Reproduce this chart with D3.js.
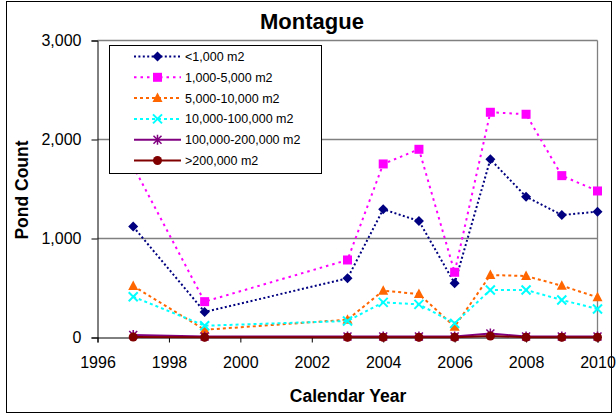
<!DOCTYPE html>
<html>
<head>
<meta charset="utf-8">
<script src="https://cdn.jsdelivr.net/npm/d3@7"></script>
<style>
  html, body { margin: 0; padding: 0; background: #fff; }
  svg { display: block; font-family: Arial, "Liberation Sans", sans-serif; }
</style>
</head>
<body>
<svg id="chart" width="616" height="417"></svg>
<script>
// Pond counts by size class, Montague
const years = [1997, 1999, 2003, 2004, 2005, 2006, 2007, 2008, 2009, 2010];
const seriesNames = ["<1,000 m2", "1,000-5,000 m2", "5,000-10,000 m2", "10,000-100,000 m2", "100,000-200,000 m2", ">200,000 m2"];
const lt1000      = [1120, 258, 598, 1295, 1177, 547, 1800, 1422, 1237, 1271];
const s1000_5000  = [1730, 362, 783, 1753, 1901, 659, 2275, 2255, 1635, 1480];
const s5000_10000 = [520, 78, 180, 473, 439, 109, 631, 621, 523, 406];
const s10k_100k   = [412, 119, 167, 355, 335, 143, 480, 480, 379, 288];
const s100k_200k  = [25, 10, 10, 10, 10, 10, 40, 10, 10, 10];
const gt200k      = [5, 3, 3, 3, 3, 3, 15, 3, 3, 3];
const xTicks = [1996, 1998, 2000, 2002, 2004, 2006, 2008, 2010];
const yTicks = [0, 1000, 2000, 3000];

const seriesValues = [lt1000, s1000_5000, s5000_10000, s10k_100k, s100k_200k, gt200k];
const styles = [
  { color: "#000080", dash: "2,2.4", marker: "diamond", width: 2 },
  { color: "#FF00FF", dash: "2.5,4", marker: "square", width: 2 },
  { color: "#FF6600", dash: "3,3", marker: "triangle", width: 2 },
  { color: "#00FFFF", dash: "3,3", marker: "x", width: 2 },
  { color: "#800080", dash: null, marker: "asterisk", width: 2 },
  { color: "#800000", dash: null, marker: "circle", width: 2 }
];

const svg = d3.select("#chart");
const plot = { left: 97.5, right: 597.5, top: 40.5, bottom: 337.5 };

const x = d3.scaleLinear().domain([1996, 2010]).range([plot.left, plot.right]);
const y = d3.scaleLinear().domain([0, 3000]).range([plot.bottom, plot.top]);

// outer chart frame
svg.append("rect").attr("x", 6.5).attr("y", 1.5).attr("width", 605).attr("height", 411)
  .attr("fill", "#fff").attr("stroke", "#000").attr("stroke-width", 1);

// title
svg.append("text").attr("x", 312).attr("y", 29).attr("text-anchor", "middle")
  .attr("font-size", 22).attr("font-weight", "bold").text("Montague");

// gridlines
svg.append("g").selectAll("line").data(yTicks.filter(d => d > 0)).join("line")
  .attr("x1", plot.left).attr("x2", plot.right)
  .attr("y1", d => y(d)).attr("y2", d => y(d))
  .attr("stroke", "#808080").attr("stroke-width", 1.3);

// right frame
svg.append("line").attr("x1", plot.right).attr("x2", plot.right)
  .attr("y1", plot.top).attr("y2", plot.bottom).attr("stroke", "#808080").attr("stroke-width", 1.3);

// y axis
const yAxis = svg.append("g").attr("transform", `translate(${plot.left},0)`)
  .call(d3.axisLeft(y).tickValues(yTicks).tickFormat(d3.format(",")).tickSizeOuter(0).tickSize(6).tickPadding(10));
yAxis.select(".domain").attr("stroke", "#000");
yAxis.selectAll("text").attr("font-size", 16).attr("fill", "#000").attr("font-family", "Arial, 'Liberation Sans', sans-serif");

// x axis
const xAxis = svg.append("g").attr("transform", `translate(0,${plot.bottom})`)
  .call(d3.axisBottom(x).tickValues(xTicks).tickFormat(d3.format("d")).tickSizeOuter(0).tickSize(5).tickPadding(14));
xAxis.select(".domain").attr("stroke", "#000");
xAxis.selectAll("text").attr("font-size", 16).attr("fill", "#000").attr("font-family", "Arial, 'Liberation Sans', sans-serif");

// axis titles
svg.append("text").attr("x", 348).attr("y", 402).attr("text-anchor", "middle")
  .attr("font-size", 17.5).attr("font-weight", "bold").text("Calendar Year");
svg.append("text").attr("transform", "translate(28,190) rotate(-90)").attr("text-anchor", "middle")
  .attr("font-size", 17.5).attr("font-weight", "bold").text("Pond Count");

// marker drawing
function drawMarker(g, type, color) {
  switch (type) {
    case "diamond":
      g.append("path").attr("d", "M0,-5L5,0L0,5L-5,0Z").attr("fill", color);
      break;
    case "square":
      g.append("rect").attr("x", -4.5).attr("y", -4.5).attr("width", 9).attr("height", 9).attr("fill", color);
      break;
    case "triangle":
      g.append("path").attr("d", "M0,-5.5L5,4L-5,4Z").attr("fill", color);
      break;
    case "x":
      g.append("path").attr("d", "M-4.5,-4.5L4.5,4.5M-4.5,4.5L4.5,-4.5").attr("stroke", color).attr("stroke-width", 2);
      break;
    case "asterisk":
      g.append("path").attr("d", "M-4,-4L4,4M-4,4L4,-4M0,-5L0,5").attr("stroke", color).attr("stroke-width", 1.5);
      break;
    case "circle":
      g.append("circle").attr("r", 4.5).attr("fill", color);
      break;
  }
}

const line = d3.line().x(d => x(d[0])).y(d => y(d[1]));

// series
seriesValues.forEach((vals, i) => {
  const st = styles[i];
  const pts = years.map((yr, j) => [yr, vals[j]]);
  const g = svg.append("g");
  g.append("path").datum(pts).attr("d", line).attr("fill", "none")
    .attr("stroke", st.color).attr("stroke-width", st.width)
    .attr("stroke-dasharray", st.dash);
  pts.forEach(p => {
    const m = g.append("g").attr("transform", `translate(${x(p[0])},${y(p[1])})`);
    drawMarker(m, st.marker, st.color);
  });
});

// legend
const legend = svg.append("g");
legend.append("rect").attr("x", 109.5).attr("y", 45.5).attr("width", 212).attr("height", 128)
  .attr("fill", "#fff").attr("stroke", "#000").attr("stroke-width", 1);
seriesNames.forEach((name, i) => {
  const st = styles[i];
  const ly = 56.5 + i * 20.8;
  legend.append("line").attr("x1", 134).attr("x2", 181).attr("y1", ly).attr("y2", ly)
    .attr("stroke", st.color).attr("stroke-width", st.width).attr("stroke-dasharray", st.dash);
  const m = legend.append("g").attr("transform", `translate(157.5,${ly})`);
  drawMarker(m, st.marker, st.color);
  legend.append("text").attr("x", 185).attr("y", ly + 4.5).attr("font-size", 12.5).text(name);
});
</script>
</body>
</html>
